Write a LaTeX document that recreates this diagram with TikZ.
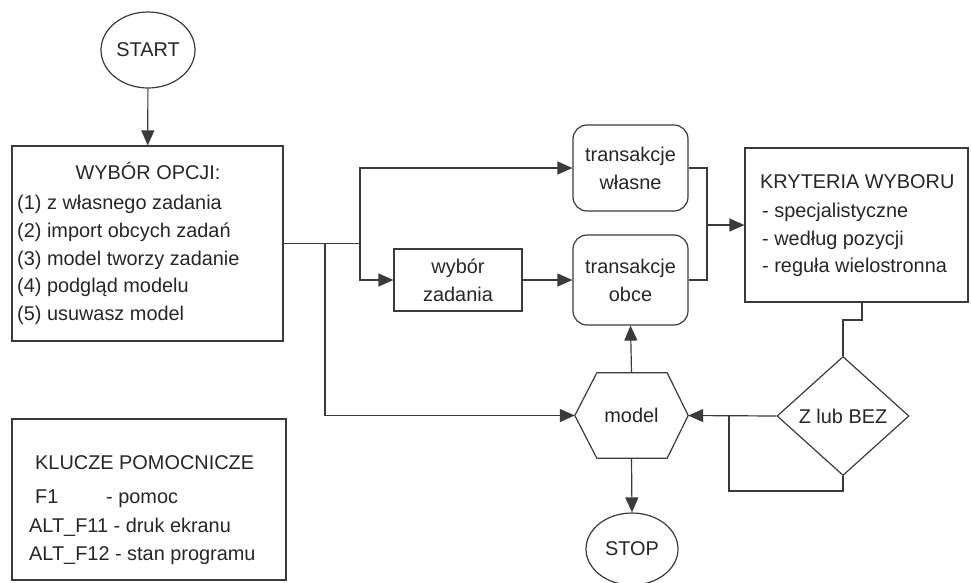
\documentclass[tikz,border=0pt]{standalone}
\usepackage{fontspec}
\setmainfont{Liberation Sans}
\usetikzlibrary{arrows.meta,shapes.geometric,calc}
\definecolor{ink}{HTML}{262626}
\definecolor{wire}{HTML}{3A3A3A}

\begin{document}
\begin{tikzpicture}[x=1pt,y=-1pt,
  every node/.style={text=ink, font=\fontsize{19.9}{28}\selectfont, inner sep=0pt},
  line/.style={draw=wire, line width=1.2pt},
  arr/.style={line, -{Triangle[length=15pt,width=13pt]}},
  box/.style={draw=wire, line width=1.2pt, rectangle, align=center},
  rbox/.style={box, rounded corners=14pt},
  oval/.style={draw=wire, line width=1.2pt, ellipse},
  txt/.style={anchor=base west}
]
\useasboundingbox (0,0) rectangle (971,582);

% terminals
\node[oval, minimum width=94, minimum height=76] (start) at (148,50) {START};
\node[oval, minimum width=92, minimum height=72] (stop) at (632,549) {STOP};

% option menu
\node[box, minimum width=271, minimum height=195] (opcje) at (147.5,243.5) {};
\node[anchor=base] (opcjeT) at (148,179) {WYBÓR OPCJI:};
\node[txt] (op1) at (17,209) {(1) z własnego zadania};
\node[txt] (op2) at (17,237) {(2) import obcych zadań};
\node[txt] (op3) at (17,265) {(3) model tworzy zadanie};
\node[txt] (op4) at (17,292) {(4) podgląd modelu};
\node[txt] (op5) at (17,320) {(5) usuwasz model};

% help keys
\node[box, minimum width=274, minimum height=161] (klucze) at (149,499.5) {};
\node[txt] (kT) at (35,469) {KLUCZE POMOCNICZE};
\node[txt] (k1a) at (35,503) {F1};
\node[txt] (k1b) at (106,503) {- pomoc};
\node[txt] (k2) at (29,532) {ALT\_F11 - druk ekranu};
\node[txt] (k3) at (29,560) {ALT\_F12 - stan programu};

% processing boxes
\node[box, minimum width=128, minimum height=62] (wybor) at (458,280) {wybór\\zadania};
\node[rbox, minimum width=115, minimum height=86] (wlasne) at (630.5,168) {transakcje\\własne};
\node[rbox, minimum width=115, minimum height=90] (obce) at (630.5,280) {transakcje\\obce};

% selection criteria
\node[box, minimum width=223, minimum height=154] (kryt) at (856.5,225) {};
\node[txt] (krT) at (760,188) {KRYTERIA WYBORU};
\node[txt] (kr1) at (762,217) {- specjalistyczne};
\node[txt] (kr2) at (762,245) {- według pozycji};
\node[txt] (kr3) at (762,272) {- reguła wielostronna};

% decision
\node[diamond, draw=wire, line width=1.2pt, minimum width=132, minimum height=119] (zb) at (843,416) {Z lub BEZ};

% model hexagon
\node[minimum width=113, minimum height=85] (model) at (631.5,415.5) {model};
\draw[line] (model.west) -- ($(model.north west)+(22,0)$) -- ($(model.north east)+(-21,0)$)
  -- (model.east) -- ($(model.south east)+(-21,0)$) -- ($(model.south west)+(22,0)$) -- cycle;

% connectors
\coordinate (jA) at (360,243.5);
\coordinate (jM) at (325,243.5);
\coordinate (jB) at (707,225);
\coordinate (kb) at (862,302);
\coordinate (kz) at (862,320);
\coordinate (zs) at (843,491);
\coordinate (jL) at (729,416);

\draw[arr] (start) -- (opcje);
\draw[line] (opcje.east) -- (jA);
\draw[arr] (jA) |- (wlasne.west);
\draw[arr] (jA) |- (wybor.west);
\draw[arr] (jM) |- (model.west);
\draw[arr] (wybor) -- (obce);
\draw[line] (wlasne.east) -| (jB);
\draw[line] (obce.east) -| (jB);
\draw[arr] (jB) -- (kryt.west);
\draw[line] (kb) -- (kz) -| (zb.north);
\draw[arr] (zb.west) -- (model.east);
\draw[line] (zb.south) -- (zs) -| (jL);
\draw[arr] (model.north) -- (obce.south);
\draw[arr] (model.south) -- (stop.north);
\end{tikzpicture}
\end{document}
